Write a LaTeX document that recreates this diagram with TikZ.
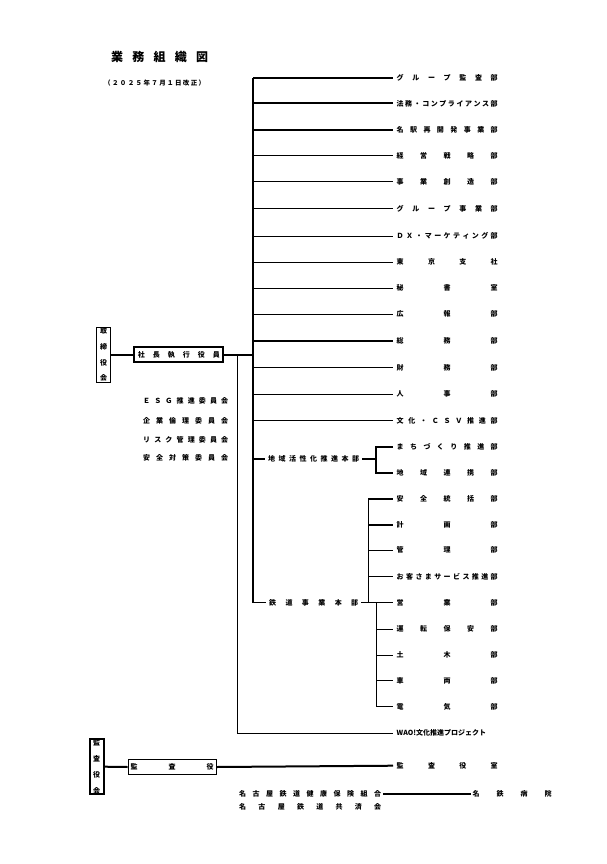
\documentclass[tikz,border=0pt]{standalone}
\usepackage{fontspec}
\setmainfont{Noto Sans CJK JP}
\usepackage{tikz}

% spread the letters of a label evenly over a given width
\newcommand\spread[2]{\makebox[#1][s]{\spreadloop#2\relax}}
\def\spreadloop#1#2{#1\ifx\relax#2\else\hfill\expandafter\spreadloop\fi#2}

\begin{document}
\begin{tikzpicture}[x=1pt, y=-1pt,
    thn/.style={line width=0.9pt},
    thk/.style={line width=2pt},
    bus/.style={line width=2.6pt},
    dept/.style={anchor=west, inner xsep=3.5pt, inner ysep=1pt, font=\fontsize{7}{8}\selectfont\bfseries},
    txt/.style={anchor=west, inner xsep=2pt, inner ysep=1pt, font=\fontsize{7}{8}\selectfont\bfseries},
    vbox/.style={draw, inner sep=0pt, minimum width=14pt, minimum height=55pt, align=center, font=\fontsize{7}{15.8}\selectfont\bfseries},
    hbox/.style={draw, inner sep=0pt, minimum height=15pt, font=\fontsize{7}{8}\selectfont\bfseries}]
  \useasboundingbox[fill=white] (0,0) rectangle (607,864);

  % heading
  \node[anchor=west, inner sep=0pt, font=\fontsize{12}{14}\selectfont\bfseries] (title) at (111,56.7) {\spread{97pt}{業務組織図}};
  \node[anchor=west, inner sep=0pt, font=\fontsize{6.5}{8}\selectfont\bfseries] (subtitle) at (104,83.3) {\spread{101pt}{（２０２５年７月１日改正）}};

  % board and president
  \node[vbox, thn] (board) at (103.5,354.7) {取\\締\\役\\会};
  \node[hbox, thk, minimum width=89pt] (president) at (178.8,354.7) {\spread{82pt}{社長執行役員}};

  % committees
  \node[txt] (esg) at (141,400.7) {\spread{85pt}{ＥＳＧ推進委員会}};
  \node[txt] (ethics) at (141,421) {\spread{85pt}{企業倫理委員会}};
  \node[txt] (risk) at (141,439.5) {\spread{85pt}{リスク管理委員会}};
  \node[txt] (safetycom) at (141,458) {\spread{85pt}{安全対策委員会}};

  % departments
  \node[dept] (grpaudit) at (393,77.7) {\spread{101pt}{グループ監査部}};
  \node[dept] (legal) at (393,103.5) {\spread{101pt}{法務・コンプライアンス部}};
  \node[dept] (meieki) at (393,129.7) {\spread{101pt}{名駅再開発事業部}};
  \node[dept] (strategy) at (393,155.7) {\spread{101pt}{経営戦略部}};
  \node[dept] (bizcreate) at (393,181.5) {\spread{101pt}{事業創造部}};
  \node[dept] (grpbiz) at (393,208.5) {\spread{101pt}{グループ事業部}};
  \node[dept] (dx) at (393,236) {\spread{101pt}{ＤＸ・マーケティング部}};
  \node[dept] (tokyo) at (393,262) {\spread{101pt}{東京支社}};
  \node[dept] (secretary) at (393,288) {\spread{101pt}{秘書室}};
  \node[dept] (pr) at (393,314) {\spread{101pt}{広報部}};
  \node[dept] (general) at (393,340.5) {\spread{101pt}{総務部}};
  \node[dept] (finance) at (393,367.5) {\spread{101pt}{財務部}};
  \node[dept] (hr) at (393,394) {\spread{101pt}{人事部}};
  \node[dept] (culture) at (393,420.5) {\spread{101pt}{文化・ＣＳＶ推進部}};

  % regional headquarters
  \node[txt, inner xsep=3pt] (regional) at (265,459.3) {\spread{91pt}{地域活性化推進本部}};
  \node[dept] (machi) at (393,446.7) {\spread{101pt}{まちづくり推進部}};
  \node[dept] (area) at (393,472.7) {\spread{101pt}{地域連携部}};

  % railway headquarters
  \node[txt, inner xsep=3pt] (railway) at (266,602.7) {\spread{89pt}{鉄道事業本部}};
  \node[dept] (safety) at (393,499.3) {\spread{101pt}{安全統括部}};
  \node[dept] (planning) at (393,524.7) {\spread{101pt}{計画部}};
  \node[dept] (admin) at (393,550.3) {\spread{101pt}{管理部}};
  \node[dept] (customer) at (393,576.3) {\spread{101pt}{お客さまサービス推進部}};
  \node[dept] (sales) at (393,602.7) {\spread{101pt}{営業部}};
  \node[dept] (operation) at (393,629) {\spread{101pt}{運転保安部}};
  \node[dept] (civil) at (393,655) {\spread{101pt}{土木部}};
  \node[dept] (rolling) at (393,680.7) {\spread{101pt}{車両部}};
  \node[dept] (electric) at (393,706.7) {\spread{101pt}{電気部}};

  \node[dept] (wao) at (393,733.3) {WAO!文化推進プロジェクト};

  % auditors
  \node[vbox, thk] (auditboard) at (96.5,766.7) {監\\査\\役\\会};
  \node[hbox, thn, minimum width=88pt] (auditor) at (172,767) {\spread{83pt}{監査役}};
  \node[dept] (auditoffice) at (393,765.7) {\spread{101pt}{監査役室}};
  \node[txt] (kenpo) at (237,794) {\spread{142pt}{名古屋鉄道健康保険組合}};
  \node[txt] (kyosai) at (237,806.7) {\spread{142pt}{名古屋鉄道共済会}};
  \node[txt, inner xsep=1.6pt] (hospital) at (470.7,794) {\spread{79pt}{名鉄病院}};

  \coordinate (bus) at (253,0);
  \coordinate (stem) at (237,0);
  \coordinate (areabus) at (376,0);
  \coordinate (railtop) at (368,0);
  \coordinate (railbot) at (376,0);

  % connectors
  \draw[thk] (board.east) -- (president.west);
  \draw[thk] (president.east) -- (bus |- president.east);
  \draw[thn] (stem |- president.east) |- (wao.west);
  \draw[bus] (bus |- grpaudit.west) -- (bus |- railway.west);
  \draw[thk] (bus |- grpaudit.west) -- (grpaudit.west);
  \draw[thk] (bus |- legal.west) -- (legal.west);
  \draw[thk] (bus |- meieki.west) -- (meieki.west);
  \draw[thn] (bus |- strategy.west) -- (strategy.west);
  \draw[thn] (bus |- bizcreate.west) -- (bizcreate.west);
  \draw[thn] (bus |- grpbiz.west) -- (grpbiz.west);
  \draw[thn] (bus |- dx.west) -- (dx.west);
  \draw[thn] (bus |- tokyo.west) -- (tokyo.west);
  \draw[thn] (bus |- secretary.west) -- (secretary.west);
  \draw[thn] (bus |- pr.west) -- (pr.west);
  \draw[thk] (bus |- general.west) -- (general.west);
  \draw[thn] (bus |- finance.west) -- (finance.west);
  \draw[thn] (bus |- hr.west) -- (hr.west);
  \draw[thn] (bus |- culture.west) -- (culture.west);

  \draw[thk] (bus |- regional.west) -- (regional.west);
  \draw[thk] (regional.east) -- (areabus |- regional.east);
  \draw[thk] (machi.west) -| (areabus |- area.west) -- (area.west);

  \draw[thn] (bus |- railway.west) -- (railway.west);
  \draw[thn] (railway.east) -- (sales.west);
  \draw[thn] (railtop |- safety.west) -- (railtop |- sales.west);
  \draw[thk] (railtop |- safety.west) -- (safety.west);
  \draw[thk] (railtop |- planning.west) -- (planning.west);
  \draw[thn] (railtop |- admin.west) -- (admin.west);
  \draw[thn] (railtop |- customer.west) -- (customer.west);
  \draw[thn] (railbot |- sales.west) |- (electric.west);
  \draw[thn] (railbot |- operation.west) -- (operation.west);
  \draw[thn] (railbot |- civil.west) -- (civil.west);
  \draw[thn] (railbot |- rolling.west) -- (rolling.west);

  \draw[thk] (auditboard.east) -- (auditor.west);
  \draw[thk] (auditor.east) -- (auditoffice.west);
  \draw[thk] (kenpo.east) -- (hospital.west);
\end{tikzpicture}
\end{document}
